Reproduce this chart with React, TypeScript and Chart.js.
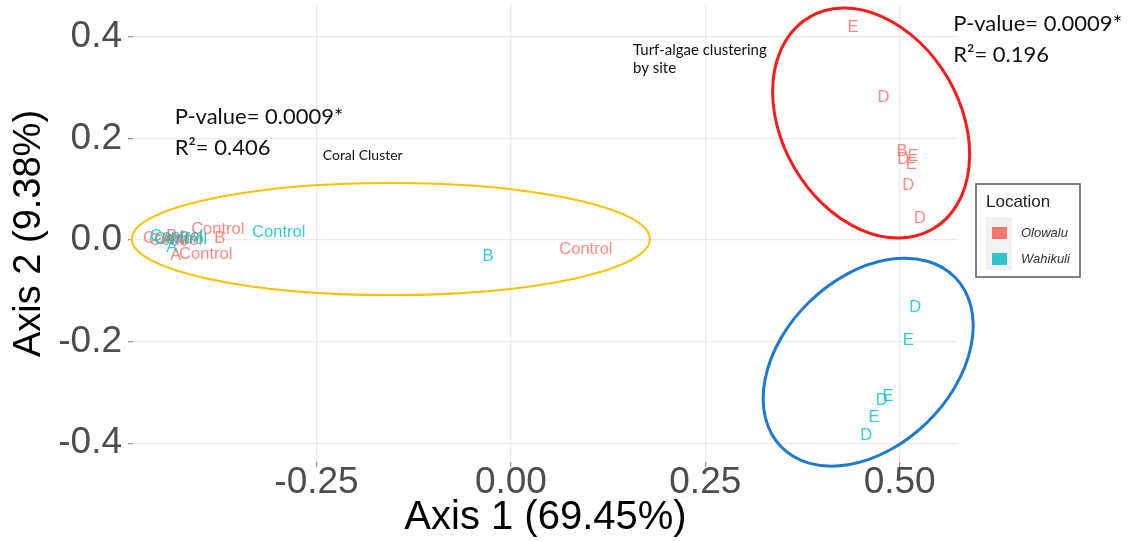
import React, { useEffect, useRef } from 'react';
import { Chart, registerables } from 'chart.js';

Chart.register(...registerables);

// ---- Data ----
const olowaluX = [0.440, 0.479, 0.503, 0.5045, 0.517, 0.515, 0.511, 0.526,
  -0.377, -0.3745, -0.3925, 0.0965, -0.4389, -0.4311, -0.4414, -0.426, -0.4196, -0.4363, -0.4311];
const olowaluY = [0.418, 0.280, 0.175, 0.158, 0.164, 0.148, 0.108, 0.043,
  0.0217, 0.004, -0.028, -0.018, 0.0039, 0.0, 0.002, -0.002, 0.004, 0.008, -0.0296];
const olowaluText = ['E', 'D', 'B', 'D', 'E', 'E', 'D', 'D',
  'Control', 'B', 'Control', 'Control', 'Control', 'Control', 'A', 'A', 'B', 'B', 'A'];

const wahikuliX = [0.520, 0.511, 0.485, 0.477, 0.467, 0.457,
  -0.2986, -0.0296, -0.4299, -0.4247, -0.4363];
const wahikuliY = [-0.132, -0.197, -0.307, -0.315, -0.349, -0.384,
  0.016, -0.0315, 0.0079, 0.002, -0.0138];
const wahikuliText = ['D', 'E', 'E', 'D', 'E', 'D',
  'Control', 'B', 'Control', 'Control', 'A'];

const seriesNames = ['Olowalu', 'Wahikuli'];
const seriesColors = ['#F8766D', '#2EC4C8'];
const seriesTextColors = ['rgba(248,118,109,0.85)', 'rgba(0,191,196,0.8)'];

const xTickValues = [-0.25, 0, 0.25, 0.5];
const yTickValues = [-0.4, -0.2, 0, 0.2, 0.4];
const xRange = [-0.486, 0.575];
const yRange = [-0.437, 0.463];
const xTitle = 'Axis 1 (69.45%)';
const yTitle = 'Axis 2 (9.38%)';
const legendTitle = 'Location';

// ---- Annotation config ----
const annotations = [
  { text: 'P-value= 0.0009*', x: -0.4324, y: 0.2286, size: 22 },
  { text: 'R\u00B2= 0.406', x: -0.4324, y: 0.1675, size: 22 },
  { text: 'P-value= 0.0009*', x: 0.5689, y: 0.4118, size: 22 },
  { text: 'R\u00B2= 0.196', x: 0.5689, y: 0.3507, size: 22 },
  { text: 'Coral Cluster', x: -0.242, y: 0.1576, size: 14 },
  { text: 'Turf-algae clustering', x: 0.157, y: 0.3645, size: 15 },
  { text: 'by site', x: 0.157, y: 0.329, size: 15 },
];

const ellipses = [
  { cx: -0.1544, cy: 0.002, a: 259, b: 56, rot: 0, color: '#FFC000', width: 2 },
  { cx: 0.4633, cy: 0.2305, a: 122.6, b: 88.9, rot: 59.8, color: '#FF1A1A', width: 3 },
  { cx: 0.4595, cy: -0.2404, a: 121.4, b: 84.3, rot: -44.2, color: '#1F7ACF', width: 3 },
];

const SANS = '"Liberation Sans", Arial, Helvetica, sans-serif';
const CAL = 'Lato, "Open Sans", sans-serif';

const textLabelPlugin = {
  id: 'textLabels',
  afterDatasetsDraw(chart: any) {
    const ctx = chart.ctx;
    chart.data.datasets.forEach((ds: any, i: number) => {
      const meta = chart.getDatasetMeta(i);
      ctx.save();
      ctx.font = `16.5px ${SANS}`;
      ctx.fillStyle = ds.textColor;
      ctx.textAlign = 'center';
      ctx.textBaseline = 'middle';
      meta.data.forEach((el: any, j: number) => {
        ctx.fillText(ds.texts[j], el.x, el.y);
      });
      ctx.restore();
    });
  },
};

const overlayPlugin = {
  id: 'overlay',
  afterDraw(chart: any) {
    const ctx = chart.ctx;
    const xs = chart.scales.x;
    const ys = chart.scales.y;
    ellipses.forEach((e) => {
      ctx.save();
      ctx.beginPath();
      ctx.ellipse(xs.getPixelForValue(e.cx), ys.getPixelForValue(e.cy), e.a, e.b, (e.rot * Math.PI) / 180, 0, Math.PI * 2);
      ctx.strokeStyle = e.color;
      ctx.lineWidth = e.width;
      ctx.stroke();
      ctx.restore();
    });
    annotations.forEach((a) => {
      ctx.save();
      ctx.font = `${a.size}px ${CAL}`;
      ctx.fillStyle = '#111';
      ctx.textAlign = 'left';
      ctx.textBaseline = 'alphabetic';
      ctx.fillText(a.text, xs.getPixelForValue(a.x), ys.getPixelForValue(a.y));
      ctx.restore();
    });
    const left = chart.chartArea.right + 18;
    const top = 184;
    ctx.save();
    ctx.fillStyle = '#fff';
    ctx.fillRect(left, top, 104, 93);
    ctx.strokeStyle = '#555';
    ctx.lineWidth = 1.5;
    ctx.strokeRect(left, top, 104, 93);
    ctx.fillStyle = '#222';
    ctx.font = `17px ${SANS}`;
    ctx.textAlign = 'left';
    ctx.textBaseline = 'alphabetic';
    ctx.fillText(legendTitle, left + 10, top + 23);
    ctx.fillStyle = '#F2F2F2';
    ctx.fillRect(left + 10, top + 33, 26, 53);
    chart.data.datasets.forEach((ds: any, i: number) => {
      const cy = top + 49 + i * 26;
      ctx.fillStyle = ds.keyColor;
      ctx.fillRect(left + 16, cy - 6, 15, 12);
      ctx.fillStyle = '#333';
      ctx.font = `italic 13px ${SANS}`;
      ctx.textBaseline = 'middle';
      ctx.fillText(ds.label, left + 45, cy);
    });
    ctx.restore();
  },
};

export default function App() {
  const ref = useRef<HTMLCanvasElement | null>(null);
  useEffect(() => {
    document.body.style.margin = '0';
    const canvas = ref.current;
    if (!canvas) return;
    const mk = (xsArr: number[], ysArr: number[]) => xsArr.map((x, i) => ({ x, y: ysArr[i] }));
    const chart = new Chart(canvas, {
      type: 'scatter',
      data: {
        datasets: [
          {
            label: seriesNames[0],
            data: mk(olowaluX, olowaluY),
            pointRadius: 0,
            pointHoverRadius: 0,
            texts: olowaluText,
            textColor: seriesTextColors[0],
            keyColor: seriesColors[0],
          } as any,
          {
            label: seriesNames[1],
            data: mk(wahikuliX, wahikuliY),
            pointRadius: 0,
            pointHoverRadius: 0,
            texts: wahikuliText,
            textColor: seriesTextColors[1],
            keyColor: seriesColors[1],
          } as any,
        ],
      },
      options: {
        animation: false,
        responsive: false,
        devicePixelRatio: 1,
        layout: { padding: { left: 0, top: 5, right: 177, bottom: 0 } },
        plugins: { legend: { display: false }, tooltip: { enabled: false } },
        scales: {
          x: {
            type: 'linear',
            min: xRange[0],
            max: xRange[1],
            afterBuildTicks: (s: any) => { s.ticks = xTickValues.map((v) => ({ value: v })); },
            afterFit: (s: any) => { s.height = 79; s.paddingLeft = 0; s.paddingRight = 0; },
            ticks: {
              callback: (v: any) => Number(v).toFixed(2),
              font: { size: 37, family: SANS },
              color: '#4D4D4D',
              padding: -6,
              maxRotation: 0,
            },
            grid: { color: '#EBEBEB', lineWidth: 1.3, tickColor: '#999', tickLength: 5 },
            border: { display: false },
            title: { display: true, text: xTitle, color: '#000', font: { size: 40, family: SANS }, padding: { top: 0, bottom: -1 } },
          },
          y: {
            type: 'linear',
            min: yRange[0],
            max: yRange[1],
            afterBuildTicks: (s: any) => { s.ticks = yTickValues.map((v) => ({ value: v })); },
            afterFit: (s: any) => { s.width = 133; s.paddingTop = 0; s.paddingBottom = 0; },
            ticks: {
              callback: (v: any) => Number(v).toFixed(1),
              font: { size: 37, family: SANS },
              color: '#4D4D4D',
              padding: 6,
            },
            grid: { color: '#EBEBEB', lineWidth: 1.3, tickColor: '#999', tickLength: 5 },
            border: { display: false },
            title: { display: true, text: yTitle, color: '#000', font: { size: 38, family: SANS }, padding: { top: 7, bottom: 0 } },
          },
        },
      } as any,
      plugins: [textLabelPlugin, overlayPlugin],
    });
    return () => chart.destroy();
  }, []);
  return (
    <div style={{ position: 'absolute', left: 0, top: 0, width: 1135, height: 541 }}>
      <canvas ref={ref} width={1135} height={541} style={{ width: 1135, height: 541, display: 'block' }} />
    </div>
  );
}
